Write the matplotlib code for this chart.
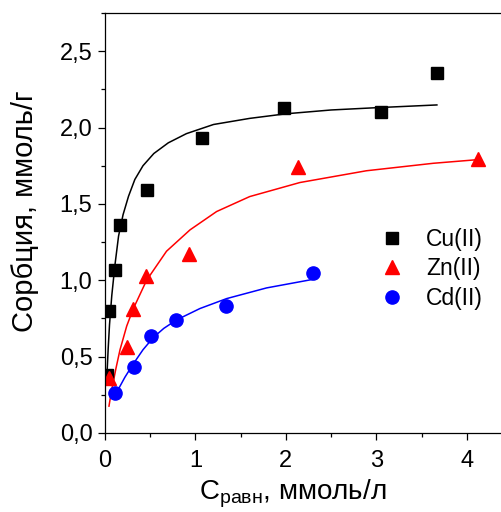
import matplotlib
matplotlib.use("Agg")
import matplotlib.pyplot as plt
from matplotlib.ticker import MultipleLocator, FuncFormatter

plt.rcParams['font.family'] = ['Liberation Sans', 'DejaVu Sans']
plt.rcParams['mathtext.fontset'] = 'custom'
plt.rcParams['mathtext.rm'] = 'Liberation Sans'

# measured points
cu_x = [0.02, 0.048, 0.11, 0.166, 0.468, 1.075, 1.98, 3.05, 3.67]
cu_y = [0.38, 0.80, 1.07, 1.364, 1.59, 1.93, 2.13, 2.10, 2.36]
zn_x = [0.04, 0.24, 0.31, 0.45, 0.93, 2.13, 4.13]
zn_y = [0.36, 0.565, 0.815, 1.028, 1.17, 1.74, 1.795]
cd_x = [0.11, 0.32, 0.505, 0.79, 1.337, 2.30]
cd_y = [0.263, 0.43, 0.634, 0.739, 0.83, 1.048]

# fitted curves
cu_fit_x = [0.02, 0.035, 0.05, 0.075, 0.11, 0.15, 0.2, 0.26, 0.33, 0.42, 0.54, 0.7, 0.9, 1.2, 1.6, 2.0, 2.5, 3.0, 3.67]
cu_fit_y = [0.36, 0.55, 0.71, 0.90, 1.10, 1.29, 1.43, 1.55, 1.66, 1.75, 1.83, 1.90, 1.96, 2.02, 2.06, 2.09, 2.115, 2.13, 2.148]
zn_fit_x = [0.044, 0.07, 0.12, 0.166, 0.24, 0.31, 0.46, 0.68, 0.94, 1.234, 1.60, 2.155, 2.89, 3.63, 4.125]
zn_fit_y = [0.176, 0.27, 0.42, 0.545, 0.70, 0.81, 1.00, 1.19, 1.33, 1.45, 1.548, 1.64, 1.717, 1.766, 1.79]
cd_fit_x = [0.11, 0.16, 0.22, 0.31, 0.42, 0.534, 0.65, 0.79, 1.05, 1.345, 1.787, 2.30]
cd_fit_y = [0.24, 0.30, 0.365, 0.45, 0.545, 0.625, 0.685, 0.74, 0.815, 0.88, 0.95, 1.006]

labels = ['Cu(II)', 'Zn(II)', 'Cd(II)']

fig = plt.figure(figsize=(5.02, 5.12), dpi=100)
ax = fig.add_axes([105/502, 1-433/512, 1-105/502, (433-13)/512])

ax.plot(cu_fit_x, cu_fit_y, color='black', lw=1.1)
ax.plot(zn_fit_x, zn_fit_y, color='red', lw=1.1)
ax.plot(cd_fit_x, cd_fit_y, color='blue', lw=1.1)

h1, = ax.plot(cu_x, cu_y, 's', color='black', ms=8, lw=0, label=labels[0])
h2, = ax.plot(zn_x, zn_y, '^', color='red', ms=10.5, lw=0, label=labels[1])
h3, = ax.plot(cd_x, cd_y, 'o', color='blue', ms=9.5, lw=0, label=labels[2])

ax.set_xlim(0, 4.39)
ax.set_ylim(0, 2.75)
ax.xaxis.set_major_locator(MultipleLocator(1))
ax.xaxis.set_minor_locator(MultipleLocator(0.5))
ax.yaxis.set_major_locator(MultipleLocator(0.5))
ax.yaxis.set_minor_locator(MultipleLocator(0.25))
ax.yaxis.set_major_formatter(FuncFormatter(lambda v, p: f"{v:.1f}".replace('.', ',')))
ax.xaxis.set_major_formatter(FuncFormatter(lambda v, p: f"{v:.0f}"))
ax.tick_params(which='major', direction='out', length=5, width=0.9, labelsize=17, top=False, right=False)
ax.tick_params(which='minor', direction='out', length=3, width=0.9, top=False, right=False)
ax.tick_params(axis='x', which='major', pad=7)
ax.tick_params(axis='y', which='major', pad=4)
for s in ax.spines.values():
    s.set_linewidth(0.9)

ax.set_xlabel('C$_{\\mathregular{равн}}$, ммоль/л', fontsize=20)
ax.set_ylabel('Сорбция, ммоль/г', fontsize=21)
ax.xaxis.set_label_coords((293-105)/397, -(510-433)/420, transform=ax.transAxes)
ax.xaxis.label.set_va('bottom')
ax.yaxis.set_label_coords(-(105-39)/397, (433-211)/420, transform=ax.transAxes)

leg = ax.legend(handles=[h1, h2, h3], loc='upper left', bbox_to_anchor=(376/502, 1-228/512),
                bbox_transform=fig.transFigure, frameon=False, fontsize=16.5,
                handlelength=1.4, handletextpad=0.78, labelspacing=0.28, borderaxespad=0, borderpad=0)

fig.savefig('out.png', dpi=100)
